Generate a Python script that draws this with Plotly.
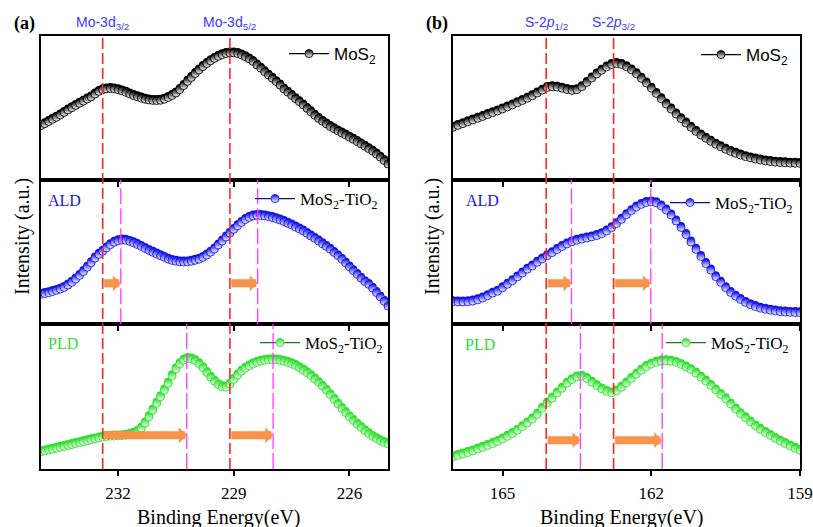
import numpy as np
import plotly.graph_objects as go

W, H = 813, 527


def fx(px):
    return px / W


def fy(py):
    return 1 - py / H


# ---------------- data ----------------
be_mo = np.round(np.linspace(234.0, 225.0, 91), 2)   # Mo 3d binding energy grid (eV)
be_s = np.round(np.linspace(166.0, 159.0, 71), 2)    # S 2p binding energy grid (eV)

mo_pristine = [37.6, 39.0, 40.5, 42.0, 43.4, 45.1, 46.8, 48.5, 50.0, 51.6,
               53.1, 54.6, 56.1, 57.5, 59.5, 61.3, 62.5, 63.1, 63.3, 63.1,
               62.5, 61.7, 60.7, 59.6, 58.5, 57.6, 56.7, 55.9, 55.4, 55.1,
               55.0, 55.2, 55.9, 57.1, 58.5, 60.2, 62.6, 65.4, 68.3, 71.0,
               73.7, 76.2, 78.5, 80.6, 82.5, 84.2, 85.6, 86.7, 87.5, 87.9,
               88.0, 87.5, 86.6, 85.3, 83.8, 82.0, 79.6, 77.4, 75.0, 72.6,
               70.4, 68.1, 65.7, 63.0, 60.8, 58.5, 56.3, 54.2, 52.0, 49.6,
               47.2, 44.8, 42.6, 40.6, 38.8, 37.0, 35.5, 34.0, 32.6, 31.2,
               29.7, 28.2, 26.6, 25.0, 23.4, 21.7, 20.0, 18.0, 15.8, 13.5,
               11.1]

mo_ald = [20.8, 21.3, 21.9, 22.7, 23.5, 24.4, 25.6, 27.2, 29.1, 31.4,
          33.9, 36.6, 39.6, 42.7, 45.9, 48.5, 50.6, 53.0, 55.2, 56.9,
          57.9, 58.4, 58.2, 57.5, 56.5, 55.3, 54.0, 52.6, 51.2, 49.9,
          48.7, 47.5, 46.4, 45.2, 44.3, 43.7, 43.3, 43.2, 43.3, 43.7,
          44.4, 45.2, 46.4, 48.0, 50.0, 52.2, 55.0, 57.7, 60.5, 63.2,
          65.8, 68.3, 70.6, 72.6, 74.1, 75.1, 75.5, 75.4, 75.1, 74.6,
          74.0, 73.2, 72.3, 71.2, 70.0, 68.8, 67.4, 66.1, 64.7, 63.0,
          61.2, 59.5, 57.7, 55.8, 54.0, 52.0, 49.8, 47.6, 45.2, 42.5,
          39.8, 37.2, 34.6, 32.0, 29.6, 27.7, 25.0, 22.0, 19.0, 16.0,
          12.6]

mo_pld = [11.9, 12.5, 13.1, 13.7, 14.3, 15.0, 15.6, 16.3, 16.9, 17.6,
          18.2, 18.9, 19.5, 20.2, 20.8, 21.5, 22.1, 22.5, 22.7, 22.8,
          22.9, 23.1, 23.4, 23.9, 24.8, 26.0, 28.2, 31.8, 36.1, 40.8,
          45.5, 50.0, 54.6, 59.3, 64.4, 69.3, 72.8, 75.2, 76.4, 76.1,
          74.9, 72.8, 70.0, 66.8, 63.5, 60.7, 58.3, 56.8, 56.6, 58.6,
          61.9, 65.0, 67.6, 69.7, 71.3, 72.6, 73.7, 74.5, 75.1, 75.4,
          75.5, 75.4, 75.1, 74.5, 73.7, 72.7, 71.5, 70.0, 68.4, 66.6,
          64.5, 62.2, 59.8, 57.3, 54.5, 51.4, 48.2, 45.0, 42.0, 39.0,
          36.2, 33.5, 31.0, 28.7, 26.5, 24.4, 22.5, 21.0, 19.6, 18.3,
          17.4]

s_pristine = [36.5, 37.8, 39.0, 40.3, 41.6, 42.8, 44.0, 45.3, 46.6, 47.8,
              49.2, 50.6, 52.0, 53.5, 55.0, 56.6, 58.3, 60.2, 62.2, 64.0,
              64.6, 64.3, 63.5, 62.6, 62.0, 62.5, 64.6, 67.5, 70.6, 73.4,
              76.0, 78.3, 79.9, 80.6, 80.0, 78.4, 76.2, 73.5, 70.4, 67.2,
              63.6, 59.9, 56.2, 52.6, 49.1, 45.7, 42.5, 39.4, 36.5, 33.7,
              31.2, 28.9, 26.8, 24.8, 23.0, 21.3, 19.8, 18.5, 17.3, 16.2,
              15.3, 14.5, 13.8, 13.2, 12.8, 12.4, 12.1, 11.9, 11.7, 11.6,
              11.5]

s_ald = [15.7, 15.5, 15.5, 15.6, 16.1, 17.0, 18.2, 19.8, 21.6, 23.0,
         25.3, 27.8, 30.2, 32.9, 35.6, 38.2, 40.5, 43.0, 45.3, 47.5,
         49.7, 51.8, 53.9, 55.7, 57.2, 58.3, 59.1, 59.8, 60.6, 61.5,
         62.8, 64.7, 67.0, 69.8, 72.8, 76.0, 78.8, 81.3, 83.1, 84.4,
         84.8, 84.2, 82.1, 79.2, 75.7, 71.6, 67.1, 62.2, 57.0, 52.0,
         47.0, 42.1, 37.6, 33.0, 29.1, 25.4, 22.1, 19.5, 17.2, 15.2,
         13.6, 12.3, 11.2, 10.4, 9.8, 9.2, 8.8, 8.5, 8.3, 8.2,
         8.1]

s_pld = [8.5, 9.4, 10.4, 11.4, 12.5, 13.8, 15.0, 16.3, 17.6, 19.1,
         20.8, 22.6, 24.6, 26.9, 29.3, 31.9, 34.6, 37.9, 42.0, 45.6,
         49.0, 52.6, 55.8, 59.3, 61.8, 63.6, 64.1, 62.6, 60.0, 57.6,
         55.4, 53.6, 52.6, 54.0, 56.5, 59.5, 62.6, 65.6, 68.2, 70.8,
         72.5, 73.8, 74.6, 74.8, 74.5, 73.7, 72.3, 70.5, 68.7, 66.3,
         63.5, 60.8, 57.8, 54.7, 51.6, 48.5, 45.0, 41.5, 38.3, 35.4,
         32.6, 29.8, 27.5, 25.3, 23.2, 21.2, 19.3, 17.6, 16.0, 14.3,
         13.0]

# peak positions (eV)
mo_ref_peaks = [232.40, 229.10]
mo_ald_peaks = [231.93, 228.38]
mo_pld_peaks = [230.22, 227.98]
s_ref_peaks = [164.12, 162.76]
s_ald_peaks = [163.61, 162.01]
s_pld_peaks = [163.43, 161.78]

mo_ticks = [232, 229, 226]
s_ticks = [165, 162, 159]
mo_range = [234.0, 225.0]
s_range = [166.0, 159.0]

mo_labels = ["Mo-3d<sub>3/2</sub>", "Mo-3d<sub>5/2</sub>"]
s_labels = ["S-2<i>p</i><sub>1/2</sub>", "S-2<i>p</i><sub>3/2</sub>"]

# ---------------- style ----------------
SERIF = "Liberation Serif, Times New Roman, serif"
SANS = "Liberation Sans, Arial, sans-serif"
BLUE = "#1414e8"
GREEN = "#2ee02e"
ORANGE = "#f7944a"
RED = "#ff2626"
MAGENTA = "#ff3cff"
EDGE_SHIFT = 1.0   # small upward offset of the solid "upper half" marker layer

xL = [fx(41), fx(388)]
xR = [fx(453), fx(800)]
yTop = [fy(180), fy(35.5)]
yMid = [fy(324.3), fy(180)]
yBot = [fy(469), fy(324.3)]

fig = go.Figure()

panels = [
    ("x", "y", be_mo, mo_pristine, "MoS<sub>2</sub>", "#000000", "#000000", "legend"),
    ("x2", "y2", be_s, s_pristine, "MoS<sub>2</sub>", "#000000", "#000000", "legend2"),
    ("x3", "y3", be_mo, mo_ald, "MoS<sub>2</sub>-TiO<sub>2</sub>", BLUE, "#14148a", "legend3"),
    ("x4", "y4", be_s, s_ald, "MoS<sub>2</sub>-TiO<sub>2</sub>", BLUE, "#14148a", "legend4"),
    ("x5", "y5", be_mo, mo_pld, "MoS<sub>2</sub>-TiO<sub>2</sub>", GREEN, "#1f7a1f", "legend5"),
    ("x6", "y6", be_s, s_pld, "MoS<sub>2</sub>-TiO<sub>2</sub>", GREEN, "#1f7a1f", "legend6"),
]
for xa, ya, ex, vals, name, mc, lc, lg in panels:
    # solid layer that gives the dark upper edge of each half-filled marker
    fig.add_trace(go.Scatter(
        x=ex, y=np.asarray(vals) + EDGE_SHIFT, xaxis=xa, yaxis=ya, mode="markers",
        marker=dict(symbol="circle", size=8, color=mc, line=dict(width=0)),
        showlegend=False, hoverinfo="skip"))
    fig.add_trace(go.Scatter(
        x=ex, y=vals, xaxis=xa, yaxis=ya, name=name, legend=lg,
        mode="lines+markers",
        line=dict(color=lc, width=1.2),
        marker=dict(symbol="circle", size=8, color=mc,
                    gradient=dict(type="vertical", color="white"),
                    line=dict(color=mc, width=0.9)),
        showlegend=True, hoverinfo="x+y"))

# ---------------- axes ----------------
layout_axes = {}
axis_specs = [
    ("xaxis", "yaxis", xL, yTop, mo_ticks, mo_range, False, "y", "x"),
    ("xaxis2", "yaxis2", xR, yTop, s_ticks, s_range, False, "y2", "x2"),
    ("xaxis3", "yaxis3", xL, yMid, mo_ticks, mo_range, False, "y3", "x3"),
    ("xaxis4", "yaxis4", xR, yMid, s_ticks, s_range, False, "y4", "x4"),
    ("xaxis5", "yaxis5", xL, yBot, mo_ticks, mo_range, True, "y5", "x5"),
    ("xaxis6", "yaxis6", xR, yBot, s_ticks, s_range, True, "y6", "x6"),
]
for xk, yk, xd, yd, tv, rng, lab, anc_y, anc_x in axis_specs:
    layout_axes[xk] = dict(domain=xd, anchor=anc_y, range=rng, tickvals=tv,
                           ticktext=[str(t) for t in tv],
                           ticks="outside", ticklen=5, tickwidth=1.5, tickcolor="black",
                           ticklabelstandoff=3,
                           showticklabels=lab, showline=True, mirror=True,
                           linecolor="black", linewidth=1.5, showgrid=False, zeroline=False,
                           automargin=False,
                           tickfont=dict(family=SERIF, size=17, color="black"))
    layout_axes[yk] = dict(domain=yd, anchor=anc_x, range=[0, 100], showticklabels=False,
                           ticks="", showline=True, mirror=True, linecolor="black",
                           linewidth=1.5, showgrid=False, zeroline=False, automargin=False)

shapes = []
annotations = []

# red reference lines through all three stacked panels
for xref, peaks in (("x5", mo_ref_peaks), ("x6", s_ref_peaks)):
    for p in peaks:
        shapes.append(dict(type="line", xref=xref, yref="paper", x0=p, x1=p,
                           y0=yBot[0], y1=yTop[1],
                           line=dict(color=RED, width=1.6, dash="11px,4px")))

# magenta shifted-peak lines
for xref, yref, peaks in (("x3", "y3", mo_ald_peaks), ("x4", "y4", s_ald_peaks),
                          ("x5", "y5", mo_pld_peaks), ("x6", "y6", s_pld_peaks)):
    for p in peaks:
        shapes.append(dict(type="line", xref=xref, yref=yref + " domain", x0=p, x1=p,
                           y0=0, y1=1, line=dict(color=MAGENTA, width=1.3, dash="16px,4px")))

# orange shift arrows
arrow_rows = [("x3", "y3", mo_ref_peaks, mo_ald_peaks, 28.4),
              ("x4", "y4", s_ref_peaks, s_ald_peaks, 28.4),
              ("x5", "y5", mo_ref_peaks, mo_pld_peaks, 23.3),
              ("x6", "y6", s_ref_peaks, s_pld_peaks, 19.9)]
for xref, yref, refs, shifted, yl in arrow_rows:
    for r, s in zip(refs, shifted):
        annotations.append(dict(xref=xref, yref=yref, x=s, y=yl, axref=xref, ayref=yref,
                                ax=r, ay=yl, text="", showarrow=True, arrowhead=1,
                                arrowsize=0.33, arrowwidth=8, arrowcolor=ORANGE, standoff=0))

# peak names above the top panels
for xref, peaks, labels in (("x", mo_ref_peaks, mo_labels), ("x2", s_ref_peaks, s_labels)):
    for p, t in zip(peaks, labels):
        annotations.append(dict(xref=xref, yref="paper", x=p, y=fy(23), text=t,
                                showarrow=False, xanchor="center", yanchor="middle",
                                font=dict(family=SANS, size=14, color="#3a3aff")))

# panel letters
for t, xp in (("<b>(a)</b>", 24), ("<b>(b)</b>", 437)):
    annotations.append(dict(xref="paper", yref="paper", x=fx(xp), y=fy(23), text=t,
                            showarrow=False, xanchor="center", yanchor="middle",
                            font=dict(family=SERIF, size=18, color="black")))

# sample labels
for t, xp, yp, c in (("ALD", 46, 201, BLUE), ("PLD", 46, 343, GREEN),
                     ("ALD", 464, 200, BLUE), ("PLD", 463, 344, GREEN)):
    annotations.append(dict(xref="paper", yref="paper", x=fx(xp), y=fy(yp), text=t,
                            showarrow=False, xanchor="left", yanchor="middle",
                            font=dict(family=SERIF, size=16, color=c)))

# axis titles
for xp in (22, 432):
    annotations.append(dict(xref="paper", yref="paper", x=fx(xp), y=fy(237),
                            text="Intensity (a.u.)", textangle=-90, showarrow=False,
                            xanchor="center", yanchor="middle",
                            font=dict(family=SERIF, size=20, color="black")))
for xp in (219, 622):
    annotations.append(dict(xref="paper", yref="paper", x=fx(xp), y=fy(517),
                            text="Binding Energy(eV)", showarrow=False,
                            xanchor="center", yanchor="middle",
                            font=dict(family=SERIF, size=20, color="black")))


def legend_cfg(xp, yp, font):
    return dict(x=fx(xp), y=fy(yp), xanchor="left", yanchor="middle",
                bgcolor="rgba(0,0,0,0)", borderwidth=0, font=font, itemwidth=40,
                tracegroupgap=0)


sans_font = dict(family=SANS, size=17, color="black")
serif_font = dict(family=SERIF, size=17, color="black")

fig.update_layout(
    width=W, height=H, margin=dict(l=0, r=0, t=0, b=0, pad=0, autoexpand=False),
    paper_bgcolor="white", plot_bgcolor="white",
    shapes=shapes, annotations=annotations,
    legend=legend_cfg(284, 54, sans_font),
    legend2=legend_cfg(696, 55, sans_font),
    legend3=legend_cfg(250, 199, serif_font),
    legend4=legend_cfg(665, 203, serif_font),
    legend5=legend_cfg(255, 343, serif_font),
    legend6=legend_cfg(661, 343, serif_font),
    **layout_axes,
)

# remove the default page margin so the 813x527 figure fills the window exactly
fig.write_html("out.html",
               config={"displayModeBar": False},
               post_script="document.body.style.margin='0';"
                           "document.body.style.overflow='hidden';")
